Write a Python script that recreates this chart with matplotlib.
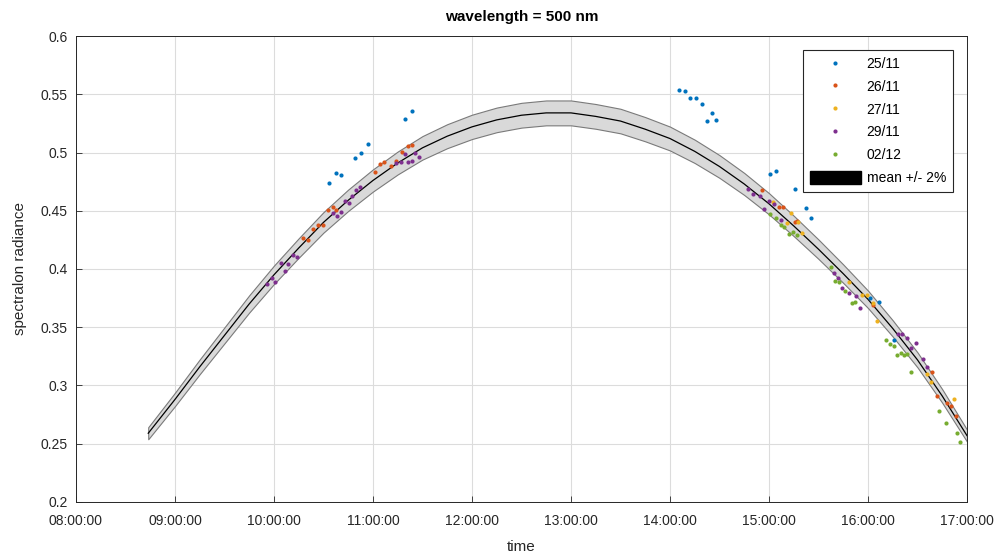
import numpy as np
import matplotlib
matplotlib.use("Agg")
import matplotlib.pyplot as plt
from matplotlib.patches import Patch
from matplotlib.lines import Line2D
from matplotlib.ticker import FuncFormatter

plt.rcParams['font.family'] = ['Liberation Sans', 'DejaVu Sans']

# mean spectralon radiance over the day (hours, value)
mean_t = [8.73, 9.0, 9.25, 9.5, 9.75, 10.0, 10.25, 10.5, 10.75, 11.0, 11.25,
          11.5, 11.75, 12.0, 12.25, 12.5, 12.75, 13.0, 13.25, 13.5, 13.75,
          14.0, 14.25, 14.5, 14.75, 15.0, 15.25, 15.5, 15.75, 16.0, 16.25,
          16.5, 16.75, 17.0]
mean_v = [0.259, 0.288, 0.316, 0.343, 0.370, 0.395, 0.418, 0.440, 0.459, 0.476,
          0.491, 0.504, 0.514, 0.522, 0.528, 0.532, 0.534, 0.534, 0.531, 0.527,
          0.520, 0.512, 0.501, 0.488, 0.473, 0.456, 0.437, 0.417, 0.396, 0.374,
          0.349, 0.322, 0.291, 0.257]
band_pct = 0.02

# measurements per day (time in hours)
t_2511 = [10.559, 10.623, 10.680, 10.818, 10.882, 10.946, 11.326, 11.394,
          14.091, 14.148, 14.205, 14.263, 14.326, 14.421, 14.374, 14.468,
          15.007, 15.068, 15.260, 15.377, 15.424, 16.020, 16.114, 16.260]
v_2511 = [0.474, 0.482, 0.481, 0.4955, 0.500, 0.507, 0.5285, 0.536,
          0.554, 0.5528, 0.547, 0.547, 0.542, 0.5336, 0.5268, 0.5276,
          0.4813, 0.4841, 0.469, 0.4524, 0.444, 0.3749, 0.3719, 0.3391]

t_2611 = [10.296, 10.346, 10.394, 10.444, 10.498, 10.548, 10.593, 10.629,
          11.023, 11.071, 11.114, 11.182, 11.232, 11.293, 11.351, 11.391,
          14.926, 15.101, 15.146, 15.268, 15.286, 16.051, 16.643, 16.702,
          16.798, 16.841, 16.889]
v_2611 = [0.4264, 0.4249, 0.4346, 0.4375, 0.438, 0.4506, 0.4535, 0.4509,
          0.4833, 0.4901, 0.4916, 0.4884, 0.4924, 0.5002, 0.5056, 0.5064,
          0.4678, 0.4535, 0.4532, 0.4403, 0.4412, 0.3691, 0.3118, 0.2914,
          0.285, 0.2824, 0.2741]

t_2711 = [15.042, 15.225, 15.185, 15.296, 15.330, 15.806, 15.944, 15.987,
          16.054, 16.094, 16.599, 16.640, 16.866]
v_2711 = [0.4571, 0.4481, 0.4397, 0.4401, 0.4309, 0.389, 0.3779, 0.3773,
          0.3711, 0.3551, 0.3097, 0.303, 0.2884]

t_2911 = [9.926, 9.977, 10.015, 10.071, 10.113, 10.146, 10.190, 10.230,
          10.599, 10.639, 10.674, 10.714, 10.758, 10.791, 10.828, 10.867,
          11.235, 11.281, 11.319, 11.359, 11.392, 11.427, 11.465,
          14.785, 14.843, 14.909, 15.003, 14.952, 15.054, 15.121,
          15.657, 15.700, 15.741, 15.811, 15.881, 15.919,
          16.303, 16.347, 16.399, 16.482, 16.434, 16.559, 16.596]
v_2911 = [0.387, 0.3927, 0.3887, 0.4052, 0.398, 0.4047, 0.412, 0.4105,
          0.4478, 0.4455, 0.4487, 0.4586, 0.4567, 0.4624, 0.4676, 0.470,
          0.4906, 0.4917, 0.4991, 0.492, 0.4925, 0.4993, 0.4964,
          0.4689, 0.4646, 0.4627, 0.4584, 0.4518, 0.4555, 0.442,
          0.3963, 0.3927, 0.3841, 0.3794, 0.3768, 0.3663,
          0.344, 0.3442, 0.3405, 0.3361, 0.3319, 0.323, 0.3155]

t_0212 = [15.013, 15.071, 15.118, 15.149, 15.202, 15.246, 15.286,
          15.623, 15.670, 15.710, 15.768, 15.835, 15.869,
          16.185, 16.222, 16.260, 16.290, 16.331, 16.364, 16.399, 16.431,
          16.717, 16.788, 16.899, 16.929]
v_0212 = [0.4474, 0.444, 0.4378, 0.4363, 0.430, 0.4315, 0.4292,
          0.4015, 0.390, 0.3891, 0.3814, 0.3711, 0.3719,
          0.3394, 0.3356, 0.3343, 0.3264, 0.3276, 0.3265, 0.3274, 0.3116,
          0.2784, 0.2681, 0.259, 0.2515]

days = ['25/11', '26/11', '27/11', '29/11', '02/12']
colors = ['#0072BD', '#D95319', '#EDB120', '#7E2F8E', '#77AC30']
series = [(t_2511, v_2511), (t_2611, v_2611), (t_2711, v_2711),
          (t_2911, v_2911), (t_0212, v_0212)]

fig = plt.figure(figsize=(10.06, 5.6), dpi=100)
ax = fig.add_axes([0.0755, 0.1036, 0.8857, 0.8321])

mt = np.array(mean_t)
mv = np.array(mean_v)
ax.fill_between(mt, mv * (1 - band_pct), mv * (1 + band_pct),
                facecolor='#d9d9d9', edgecolor='#7a7a7a', lw=0.8, zorder=2)
ax.plot(mt, mv, color='black', lw=0.9, zorder=3)

for (t, v), c in zip(series, colors):
    ax.plot(t, v, 'o', ms=3, mec='none', mfc=c, zorder=4)

ax.set_xlim(8, 17)
ax.set_ylim(0.2, 0.6)
ax.set_xticks(np.arange(8, 18, 1))
ax.set_yticks(np.arange(0.2, 0.601, 0.05))
ax.xaxis.set_major_formatter(FuncFormatter(lambda x, p: '%02d:00:00' % int(round(x))))
ax.yaxis.set_major_formatter(FuncFormatter(lambda y, p: ('%.2f' % y).rstrip('0')))
ax.grid(True, color='#dcdcdc', lw=0.8, zorder=0)
ax.set_axisbelow(True)
ax.tick_params(direction='in', length=4, width=0.6, colors='#262626',
               labelsize=10, labelcolor='#262626')
ax.tick_params(axis='x', pad=9)
ax.tick_params(axis='y', pad=6)
for s in ax.spines.values():
    s.set_color('#262626')
    s.set_linewidth(0.7)

ax.set_title('wavelength = 500 nm', fontsize=11, fontweight='bold', pad=11)
ax.set_xlabel('time', fontsize=11, color='#262626', labelpad=8)
ax.set_ylabel('spectralon radiance', fontsize=11, color='#262626', labelpad=10)

handles = [Line2D([], [], ls='none', marker='o', ms=3, mec='none', mfc=c)
           for c in colors]
handles.append(Patch(facecolor='black', edgecolor='black'))
leg = ax.legend(handles, days + ['mean +/- 2%'], loc='upper right',
                bbox_to_anchor=(0.9843, 0.970), fontsize=10, frameon=True,
                fancybox=False, framealpha=1, edgecolor='#262626',
                borderpad=0.5, labelspacing=0.6, handlelength=3.7,
                handleheight=1.1, handletextpad=0.4, borderaxespad=0)
leg.get_frame().set_linewidth(0.8)

fig.savefig('out.png', dpi=100)
